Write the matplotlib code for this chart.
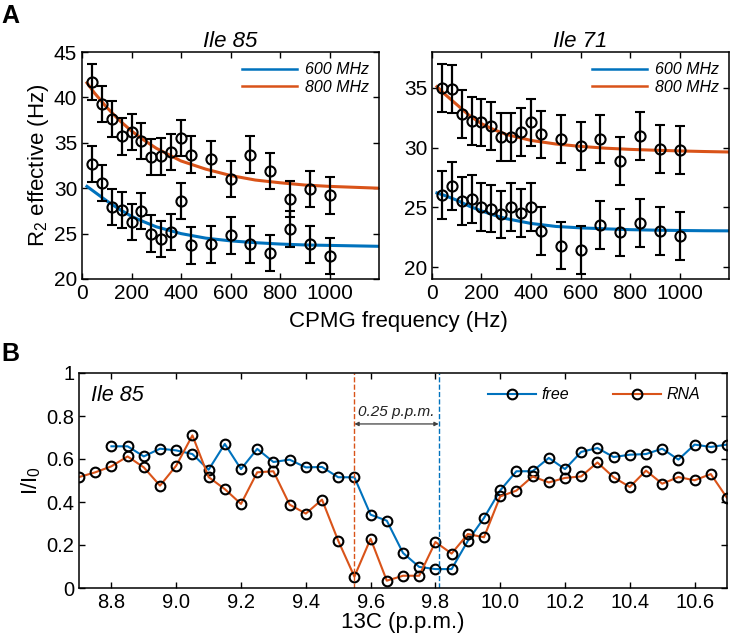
import numpy as np
import matplotlib
matplotlib.use('Agg')
import matplotlib.pyplot as plt

plt.rcParams.update({
    'font.family': ['Liberation Sans', 'DejaVu Sans'],
    'mathtext.fontset': 'custom',
    'mathtext.rm': 'Liberation Sans',
    'mathtext.it': 'Liberation Sans:italic',
    'xtick.direction': 'in',
    'ytick.direction': 'in',
    'xtick.top': True,
    'ytick.right': True,
    'axes.linewidth': 1.1,
})

BLUE = '#0072BD'
ORANGE = '#D95319'

# ---- panel A: CPMG relaxation dispersion ----
cpmg = [40, 80, 120, 160, 200, 240, 280, 320, 360, 400, 440, 520, 600, 680, 760, 840, 920, 1000]

ile85_800 = [41.7, 39.3, 37.6, 35.7, 36.2, 35.2, 33.4, 33.5, 34.0, 35.5, 33.7, 33.2, 31.0, 33.7, 31.9, 28.8, 29.9, 29.2]
ile85_600 = [32.7, 30.6, 27.9, 27.6, 26.3, 27.5, 25.0, 24.4, 25.2, 28.6, 23.7, 23.8, 24.8, 23.8, 22.9, 25.5, 23.8, 22.5]
ile85_err = [2.0] * 18

ile71_800 = [35.0, 34.9, 32.8, 32.2, 32.1, 31.8, 30.9, 30.9, 31.3, 32.1, 31.1, 30.7, 30.1, 30.7, 28.9, 31.0, 29.9, 29.8]
ile71_600 = [26.0, 26.8, 25.5, 25.7, 25.0, 24.9, 24.4, 25.0, 24.5, 25.0, 23.0, 21.8, 21.4, 23.5, 22.9, 23.7, 23.0, 22.6]
ile71_err = [2.0] * 18

# fitted curves
fit_x = [20, 50, 100, 150, 200, 250, 300, 400, 500, 600, 700, 800, 900, 1000, 1100, 1200]
fit85_800 = [41.6, 40.5, 38.9, 37.5, 36.3, 35.3, 34.4, 33.0, 32.1, 31.4, 30.9, 30.6, 30.35, 30.2, 30.1, 30.0]
fit85_600 = [30.2, 29.6, 28.6, 27.7, 26.9, 26.3, 25.75, 25.0, 24.5, 24.2, 24.0, 23.85, 23.75, 23.7, 23.65, 23.6]
fit71_800 = [35.1, 34.5, 33.6, 32.7, 32.0, 31.5, 31.1, 30.6, 30.3, 30.1, 29.95, 29.85, 29.78, 29.72, 29.67, 29.63]
fit71_600 = [26.2, 26.0, 25.6, 25.1, 24.7, 24.35, 24.05, 23.65, 23.4, 23.28, 23.2, 23.13, 23.09, 23.06, 23.04, 23.03]

# ---- panel B: intensity profile ----
shift = [8.70, 8.75, 8.80, 8.85, 8.90, 8.95, 9.00, 9.05, 9.10, 9.15, 9.20, 9.25, 9.30, 9.35,
         9.40, 9.45, 9.50, 9.55, 9.60, 9.65, 9.70, 9.75, 9.80, 9.85, 9.90, 9.95, 10.00, 10.05,
         10.10, 10.15, 10.20, 10.25, 10.30, 10.35, 10.40, 10.45, 10.50, 10.55, 10.60, 10.65, 10.70]
free = [np.nan, np.nan, 0.659, 0.659, 0.612, 0.648, 0.640, 0.623, 0.550, 0.670, 0.553, 0.647, 0.586, 0.597,
        0.561, 0.563, 0.515, 0.515, 0.341, 0.313, 0.163, 0.098, 0.088, 0.088, 0.219, 0.326, 0.454, 0.543,
        0.543, 0.605, 0.553, 0.633, 0.651, 0.609, 0.620, 0.623, 0.648, 0.597, 0.667, 0.656, 0.667]
rna = [0.516, 0.538, 0.566, 0.612, 0.561, 0.476, 0.569, 0.710, 0.516, 0.460, 0.391, 0.538, 0.543, 0.388,
       0.346, 0.411, 0.220, 0.053, 0.229, 0.034, 0.057, 0.057, 0.214, 0.160, 0.251, 0.236, 0.426, 0.453,
       0.519, 0.491, 0.512, 0.519, 0.584, 0.515, 0.470, 0.546, 0.485, 0.516, 0.501, 0.530, 0.419]
peak_rna = 9.55
peak_free = 9.81

W, H = 733, 640
fig = plt.figure(figsize=(W / 100, H / 100), dpi=100)


def rect(x0, y0, x1, y1):
    return [x0 / W, 1 - y1 / H, (x1 - x0) / W, (y1 - y0) / H]


def cpmg_panel(ax, y800, y600, err, f800, f600, title, ylim, yticks):
    l6, = ax.plot(fit_x, f600, color=BLUE, lw=2.2, label='600 MHz')
    l8, = ax.plot(fit_x, f800, color=ORANGE, lw=2.2, label='800 MHz')
    for y in (y800, y600):
        ax.errorbar(cpmg, y, yerr=err, fmt='o', color='black', mfc='none',
                    mec='black', ms=7.3, mew=1.5, elinewidth=1.6, capsize=3.5, capthick=1.6)
    ax.set_xlim(0, 1200)
    ax.set_ylim(*ylim)
    ax.set_xticks([0, 200, 400, 600, 800, 1000])
    ax.set_yticks(yticks)
    ax.tick_params(labelsize=15, length=4, width=1)
    ax.set_title(title, fontsize=16, style='italic', pad=3)
    leg = ax.legend(handles=[l6, l8], loc='upper right', frameon=False,
                    handlelength=3.4, handletextpad=0.5, labelspacing=0.15,
                    borderaxespad=0.25, prop={'style': 'italic', 'size': 11.5})
    for h in leg.get_lines():
        h.set_linewidth(1.8)


ax1 = fig.add_axes(rect(82, 52, 379, 279))
cpmg_panel(ax1, ile85_800, ile85_600, ile85_err, fit85_800, fit85_600,
           'Ile 85', (20, 45), [20, 25, 30, 35, 40, 45])
ax1.set_ylabel('R$_2$ effective (Hz)', fontsize=16, labelpad=2)

ax2 = fig.add_axes(rect(432, 52, 729, 279))
cpmg_panel(ax2, ile71_800, ile71_600, ile71_err, fit71_800, fit71_600,
           'Ile 71', (19, 38), [20, 25, 30, 35])

fig.text(398 / W, 1 - 321 / H, 'CPMG frequency (Hz)', ha='center', va='center', fontsize=16)

# panel B
ax3 = fig.add_axes(rect(79, 373, 727, 588))
mk = dict(marker='o', mfc='none', mec='black', ms=7, mew=1.5, lw=1.5)
ax3.plot(shift, free, color=BLUE, label='free', **mk)
ax3.plot(shift, rna, color=ORANGE, label='RNA', **mk)
ax3.axvline(peak_rna, color=ORANGE, ls='--', lw=1)
ax3.axvline(peak_free, color=BLUE, ls='--', lw=1)
ax3.annotate('', xy=(peak_rna, 0.763), xytext=(peak_free, 0.763),
             arrowprops=dict(arrowstyle='<|-|>', color='#404040', lw=0.9,
                             mutation_scale=6, shrinkA=0, shrinkB=0))
ax3.text((peak_rna + peak_free) / 2, 0.82, '0.25 p.p.m.', ha='center', va='center',
         fontsize=11, style='italic', color='#222222')
ax3.text(8.737, 0.895, 'Ile 85', ha='left', va='center', fontsize=15.5, style='italic')
ax3.set_xlim(8.7, 10.7)
ax3.set_ylim(0, 1)
ax3.set_xticks(np.arange(8.8, 10.61, 0.2))
ax3.set_xticklabels([f'{v:.1f}' for v in np.arange(8.8, 10.61, 0.2)])
ax3.set_yticks([0, 0.2, 0.4, 0.6, 0.8, 1])
ax3.set_yticklabels(['0', '0.2', '0.4', '0.6', '0.8', '1'])
ax3.tick_params(labelsize=14.5, length=4, width=1)
ax3.set_xlabel('13C (p.p.m.)', fontsize=16, labelpad=0)
ax3.set_ylabel('I/I$_0$', fontsize=16, labelpad=2)
ax3.legend(loc='upper right', ncol=2, frameon=False, bbox_to_anchor=(0.98, 1.0),
           handlelength=3.0, handletextpad=0.3, columnspacing=2.8,
           prop={'style': 'italic', 'size': 11.5})

fig.text(0.002, 1 - 4 / H, 'A', ha='left', va='top', fontsize=18, weight='bold')
fig.text(0.002, 1 - 342 / H, 'B', ha='left', va='top', fontsize=18, weight='bold')

fig.savefig('out.png', dpi=100)
